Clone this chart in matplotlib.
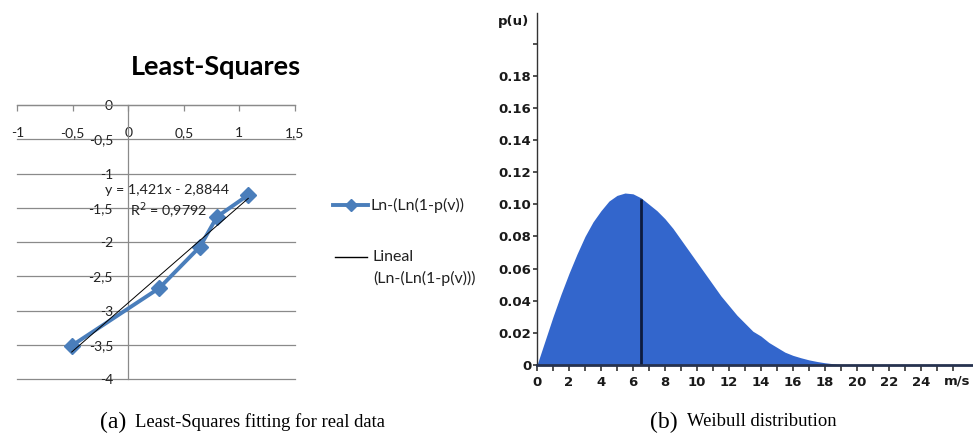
import numpy as np
import matplotlib.pyplot as plt
from matplotlib.lines import Line2D

# (a) least squares points
ls_x = [-0.51, 0.279, 0.646, 0.80, 1.081]
ls_y = [-3.51, -2.67, -2.066, -1.628, -1.312]
ls_xticks = [-1, -0.5, 0, 0.5, 1, 1.5]
ls_xlabels = ['-1', '-0,5', '0', '0,5', '1', '1,5']
ls_yticks = [0, -0.5, -1, -1.5, -2, -2.5, -3, -3.5, -4]
ls_ylabels = ['0', '-0,5', '-1', '-1,5', '-2', '-2,5', '-3', '-3,5', '-4']
eq_text = 'y = 1,421x - 2,8844'
r2_text = 'R$^2$ = 0,9792'

# (b) weibull curve, every 0.5 m/s
wb_u = [0, 0.5, 1, 1.5, 2, 2.5, 3, 3.5, 4, 4.5, 5, 5.5, 6, 6.5, 7, 7.5, 8, 8.5,
        9, 9.5, 10, 10.5, 11, 11.5, 12, 12.5, 13, 13.5, 14, 14.5, 15, 15.5,
        16, 16.5, 17, 17.5, 18, 18.5, 19, 19.5, 20, 27.2]
wb_p = [0, 0.015, 0.030, 0.044, 0.057, 0.069, 0.080, 0.089, 0.096, 0.102,
        0.1055, 0.107, 0.1065, 0.104, 0.100, 0.096, 0.091, 0.085, 0.078,
        0.071, 0.064, 0.057, 0.050, 0.043, 0.037, 0.031, 0.026, 0.021, 0.018,
        0.014, 0.011, 0.008, 0.006, 0.0045, 0.0032, 0.0022, 0.0014, 0.0008,
        0.0003, 0, 0, 0]
mean_u = 6.5
mean_p = 0.1035
wb_xticks = list(range(0, 27))
wb_xlabels = [str(t) if t % 2 == 0 and t <= 24 else '' for t in wb_xticks]
wb_yticks = [0, 0.02, 0.04, 0.06, 0.08, 0.10, 0.12, 0.14, 0.16, 0.18, 0.20]
wb_ylabels = ['0', '0.02', '0.04', '0.06', '0.08', '0.10', '0.12', '0.14',
              '0.16', '0.18', '']

W, H = 973, 434
fig = plt.figure(figsize=(W / 100, H / 100), dpi=100)

# ---------------- (a) ----------------
ax1 = fig.add_axes([17.3 / W, 1 - 379.3 / H, 277.5 / W, 274.3 / H])
grid_c = '#8a8a8a'
txt_c = '#222222'
ax1.set_xlim(-1, 1.5)
ax1.set_ylim(-4.0, 0)
for yt in ls_yticks:
    ax1.axhline(yt, color=grid_c, lw=0.9, zorder=1, clip_on=False)
for s in ['top', 'right']:
    ax1.spines[s].set_visible(False)
ax1.spines['left'].set_position(('data', 0))
ax1.spines['bottom'].set_position(('data', 0))
for s in ['left', 'bottom']:
    ax1.spines[s].set_color(grid_c)
    ax1.spines[s].set_linewidth(0.9)
ax1.set_xticks(ls_xticks)
ax1.set_xticklabels(ls_xlabels)
ax1.set_yticks(ls_yticks)
ax1.set_yticklabels(ls_ylabels)
ax1.tick_params(axis='x', direction='out', length=4, width=0.9, color=grid_c,
                pad=12, labelsize=10)
ax1.tick_params(axis='y', length=0, pad=11, labelsize=10)
for lab in ax1.get_xticklabels() + ax1.get_yticklabels():
    lab.set_fontfamily('Lato')
    lab.set_color(txt_c)

blue = '#4a7ebb'
ax1.plot(ls_x, ls_y, color=blue, lw=2.8, marker='D', ms=8, zorder=3)
coef = np.polyfit(ls_x, ls_y, 1)
fit_x = np.array([min(ls_x), max(ls_x)])
ax1.plot(fit_x, np.polyval(coef, fit_x), color='black', lw=0.7, zorder=4)
ax1.text(-0.21, -1.24, eq_text, fontsize=10.3, family='Lato', va='center',
         color=txt_c)
ax1.text(0.015, -1.54, r2_text, fontsize=10.3, family='Lato', va='center',
         color=txt_c)

fig.text(216 / W, 1 - 67 / H, 'Least-Squares', fontsize=19.5, family='Lato',
         weight='bold', ha='center', va='center')

# legend drawn by hand so the handle sits on the first line
fig.add_artist(Line2D([333 / W, 368 / W], [1 - 205 / H] * 2, color=blue,
                      lw=2.8, transform=fig.transFigure))
fig.add_artist(Line2D([351 / W], [1 - 205 / H], color=blue, marker='D',
                      ms=6.5, transform=fig.transFigure))
fig.text(370 / W, 1 - 205 / H, 'Ln-(Ln(1-p(v))', fontsize=11.5, family='Lato',
         va='center', color=txt_c)
fig.add_artist(Line2D([335 / W, 367 / W], [1 - 257 / H] * 2, color='black',
                      lw=1.0, transform=fig.transFigure))
fig.text(373 / W, 1 - 257 / H, 'Lineal', fontsize=11.5, family='Lato',
         va='center', color=txt_c)
fig.text(373 / W, 1 - 278 / H, '(Ln-(Ln(1-p(v)))', fontsize=11.5,
         family='Lato', va='center', color=txt_c)

# ---------------- (b) ----------------
ax2 = fig.add_axes([537 / W, 1 - 365 / H, 435 / W, 352 / H])
ax2.set_xlim(0, 27.2)
ax2.set_ylim(0, 0.219)
ax2.fill_between(wb_u, wb_p, color='#3366cc', lw=0, zorder=2)
ax2.vlines(mean_u, 0, mean_p, color='#0d1b3e', lw=2, zorder=3)
for s in ['top', 'right']:
    ax2.spines[s].set_visible(False)
ax2.spines['left'].set_color('#333333')
ax2.spines['left'].set_linewidth(1.0)
ax2.spines['bottom'].set_color('#26324f')
ax2.spines['bottom'].set_linewidth(2.0)
ax2.spines['bottom'].set_zorder(4)
ax2.set_xticks(wb_xticks)
ax2.set_xticklabels(wb_xlabels)
ax2.set_yticks(wb_yticks)
ax2.set_yticklabels(wb_ylabels)
ax2.tick_params(axis='x', direction='out', length=4, width=1.2,
                color='#333333', pad=4, labelsize=9.5, labelcolor='#1a1a1a')
ax2.tick_params(axis='y', direction='out', length=3, width=1.2,
                color='#333333', pad=1, labelsize=9.5, labelcolor='#1a1a1a')
for lab in ax2.get_xticklabels() + ax2.get_yticklabels():
    lab.set_fontweight('bold')
ax2.text(26.3, -0.045, 'm/s', transform=ax2.get_xaxis_transform(),
         fontsize=9.5, weight='bold', ha='center', va='center',
         color='#1a1a1a')
ax2.text(-0.5, 0.2135, 'p(u)', fontsize=9.5, weight='bold', ha='right',
         va='center', color='#1a1a1a')

# captions
fig.text(100 / W, 1 - 422 / H, '(a)', fontsize=17, family='Liberation Serif',
         va='center')
fig.text(135 / W, 1 - 422 / H, 'Least-Squares fitting for real data',
         fontsize=13.4, family='Liberation Serif', va='center')
fig.text(650 / W, 1 - 422 / H, '(b)', fontsize=17, family='Liberation Serif',
         va='center')
fig.text(687 / W, 1 - 422 / H, 'Weibull distribution', fontsize=13.4,
         family='Liberation Serif', va='center')

fig.savefig('out.png', dpi=100, facecolor='white')
